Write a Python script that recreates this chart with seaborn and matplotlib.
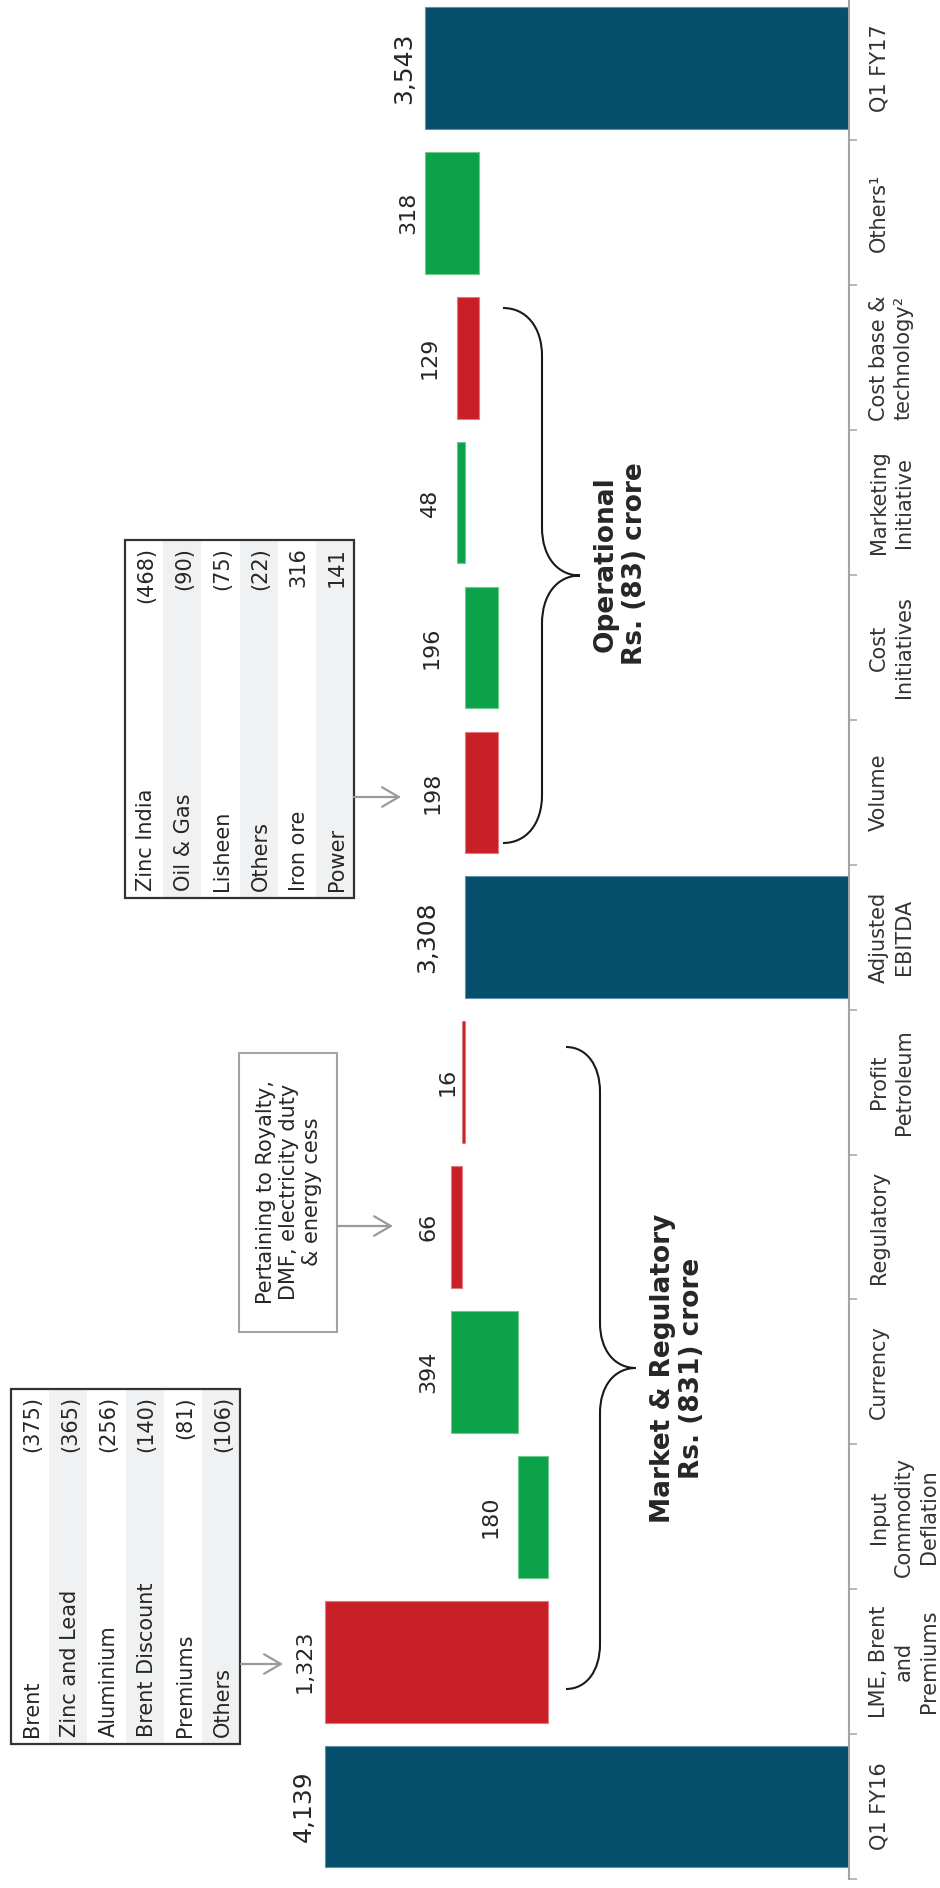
import numpy as np
import pandas as pd
import matplotlib
matplotlib.use("Agg")
import matplotlib.pyplot as plt
import seaborn as sns
from matplotlib.patches import Rectangle, PathPatch, FancyArrowPatch
from matplotlib.path import Path
from matplotlib.transforms import Affine2D

# ---------------- data ----------------
categories = ["Q1 FY16", "LME, Brent\nand\nPremiums", "Input\nCommodity\nDeflation",
              "Currency", "Regulatory", "Profit\nPetroleum", "Adjusted\nEBITDA",
              "Volume", "Cost\nInitiatives", "Marketing\nInitiative",
              "Cost base &\ntechnology\u00b2", "Others\u00b9", "Q1 FY17"]
changes = [4139, -1323, 180, 394, -66, -16, 3308, -198, 196, 48, -129, 318, 3543]
is_total = [True, False, False, False, False, False, True,
            False, False, False, False, False, True]

market_items = ["Brent", "Zinc and Lead", "Aluminium", "Brent Discount", "Premiums", "Others"]
market_values = ["(375)", "(365)", "(256)", "(140)", "(81)", "(106)"]
ops_items = ["Zinc India", "Oil & Gas", "Lisheen", "Others", "Iron ore", "Power"]
ops_values = ["(468)", "(90)", "(75)", "(22)", "316", "141"]
regulatory_note = "Pertaining to Royalty,\nDMF, electricity duty\n& energy cess"
market_brace_text = "Market & Regulatory\nRs. (831) crore"
ops_brace_text = "Operational\nRs. (83) crore"

# ---------------- style ----------------
NAVY, RED, GREEN = "#054E6C", "#C91F26", "#0BA24A"
EDGE = {"total": "#5E8FA6", "down": "#E07A7E", "up": "#6CC98F"}
TEXT = "#262626"
GRAY = "#A3A3A3"
# pixel gap between bar end and its value label (layout only)
label_gap_px = [9, 10, 17, 13, 13, 5, 26, 22, 24, 17, 18, 7, 9]

sns.set_style("white")
plt.rcParams["font.family"] = ["DejaVu Sans"]

W, H = 940, 1888
fig = plt.figure(figsize=(W / 100, H / 100), dpi=100)
ax_top_px, ax_bot_px, ax_right_px = -4.5, 1879.0, 849.0
ax = fig.add_axes([0, (H - ax_bot_px) / H, ax_right_px / W, (ax_bot_px - ax_top_px) / H])

# waterfall geometry
lows, spans, tops, kinds = [], [], [], []
running = 0
for v, tot in zip(changes, is_total):
    if tot:
        start, end = 0, v
        running = v
        kinds.append("total")
    else:
        start, end = running, running + v
        running = end
        kinds.append("up" if v > 0 else "down")
    lows.append(min(start, end))
    spans.append(abs(end - start))
    tops.append(max(start, end))

df = pd.DataFrame({"category": categories, "span": spans, "kind": kinds})
sns.barplot(data=df, x="span", y="category", hue="kind", order=categories,
            palette={"total": NAVY, "up": GREEN, "down": RED},
            dodge=False, width=0.84, orient="h", legend=False,
            saturation=1, ax=ax)

for p in ax.patches:
    idx = int(round(p.get_y() + p.get_height() / 2))
    p.set_x(lows[idx])
    p.set_width(spans[idx])
    p.set_edgecolor(EDGE[kinds[idx]])
    p.set_linewidth(0.8)

ax.set_xlim(6068, 1029)
ax.set_ylim(-0.5, len(categories) - 0.5)

# value labels
for i, (t, v, tot) in enumerate(zip(tops, changes, is_total)):
    ax.annotate(f"{abs(v):,}", xy=(t, i), xytext=(-label_gap_px[i], 0),
                textcoords="offset pixels", ha="right", va="center",
                rotation=90, fontsize=18 if tot else 16, color=TEXT)

# axes styling
ax.yaxis.tick_right()
ax.set_yticks(range(len(categories)))
ax.set_yticklabels(categories)
for lab in ax.get_yticklabels():
    lab.set_rotation(90)
    lab.set_va("center")
    lab.set_ha("left")
    lab.set_multialignment("center")
    lab.set_fontsize(15)
    lab.set_color("#333333")
    lab.set_linespacing(1.3)
ax.set_yticks(np.arange(-0.5, len(categories), 1), minor=True)
ax.tick_params(axis="y", which="major", length=0, pad=14.4, left=False, right=False,
               labelleft=False, labelright=True)
ax.tick_params(axis="y", which="minor", length=5.8, width=1.1, color=GRAY,
               left=False, right=True)
ax.set_xticks([])
ax.set_xlabel("")
ax.set_ylabel("")
for s in ["top", "bottom", "left"]:
    ax.spines[s].set_visible(False)
ax.spines["right"].set_color(GRAY)
ax.spines["right"].set_linewidth(1.5)

# ---------------- annotations in pixel layout ----------------
T = Affine2D().scale(1 / W, -1 / H).translate(0, 1) + fig.transFigure


def ftext(x, y, s, **kw):
    fig.text(x / W, 1 - y / H, s, **kw)


def table(x0, y0, x1, y1, items, values):
    n = len(items)
    w = (x1 - x0) / n
    for k in range(n):
        if k % 2 == 1:
            fig.add_artist(Rectangle((x0 + k * w, y0), w, y1 - y0, transform=T,
                                     facecolor="#F0F1F3", edgecolor="none"))
        cx = x0 + (k + 0.5) * w + 2
        ftext(cx, y1 - 7, items[k], rotation=90, ha="center", va="bottom",
              fontsize=15, color=TEXT)
        ftext(cx, y0 + 7, values[k], rotation=90, ha="center", va="top",
              fontsize=15, color=TEXT)
    fig.add_artist(Rectangle((x0, y0), x1 - x0, y1 - y0, transform=T,
                             facecolor="none", edgecolor="#333333", linewidth=1.6))


def arrow(xa, xb, y):
    fig.add_artist(FancyArrowPatch((xa, y), (xb, y), transform=T,
                                   arrowstyle="->,head_length=12,head_width=7",
                                   mutation_scale=1, color="#9A9A9A", linewidth=1.6,
                                   shrinkA=0, shrinkB=0))


def brace(x_end, x_spine, x_tip, y_top, y_bot, r):
    ym = (y_top + y_bot) / 2
    dx = x_spine - x_end
    dt = x_tip - x_spine
    verts = [
        (x_end, y_top),
        (x_end + 0.6 * dx, y_top), (x_spine, y_top + 0.4 * r), (x_spine, y_top + r),
        (x_spine, ym - r),
        (x_spine, ym - 0.4 * r), (x_spine + 0.4 * dt, ym), (x_tip, ym),
        (x_spine + 0.4 * dt, ym), (x_spine, ym + 0.4 * r), (x_spine, ym + r),
        (x_spine, y_bot - r),
        (x_spine, y_bot - 0.4 * r), (x_end + 0.6 * dx, y_bot), (x_end, y_bot),
    ]
    codes = [Path.MOVETO, Path.CURVE4, Path.CURVE4, Path.CURVE4, Path.LINETO,
             Path.CURVE4, Path.CURVE4, Path.CURVE4,
             Path.CURVE4, Path.CURVE4, Path.CURVE4, Path.LINETO,
             Path.CURVE4, Path.CURVE4, Path.CURVE4]
    fig.add_artist(PathPatch(Path(verts, codes), transform=T, facecolor="none",
                             edgecolor="#1A1A1A", linewidth=1.5))


# market table + arrow
table(11, 1389, 240, 1744, market_items, market_values)
arrow(241, 283, 1664)

# regulatory note box + arrow
fig.add_artist(Rectangle((239, 1053), 98, 279, transform=T, facecolor="white",
                         edgecolor=GRAY, linewidth=1.5))
ftext(289, 1192, regulatory_note, rotation=90, ha="center", va="center",
      multialignment="center", fontsize=15, color=TEXT, linespacing=1.2)
arrow(337, 393, 1226)

# operational table + arrow
table(125, 540, 354, 898, ops_items, ops_values)
arrow(354, 401, 797)

# braces and their texts
brace(566, 600, 636, 1047, 1689, 45)
ftext(650, 1368, market_brace_text, rotation=90, ha="left", va="center",
      multialignment="center", fontsize=19, fontweight="bold", color=TEXT,
      linespacing=1.15)
brace(503, 542, 580, 308, 843, 48)
ftext(593, 564, ops_brace_text, rotation=90, ha="left", va="center",
      multialignment="center", fontsize=19, fontweight="bold", color=TEXT,
      linespacing=1.15)

fig.savefig("out.png", dpi=100)
